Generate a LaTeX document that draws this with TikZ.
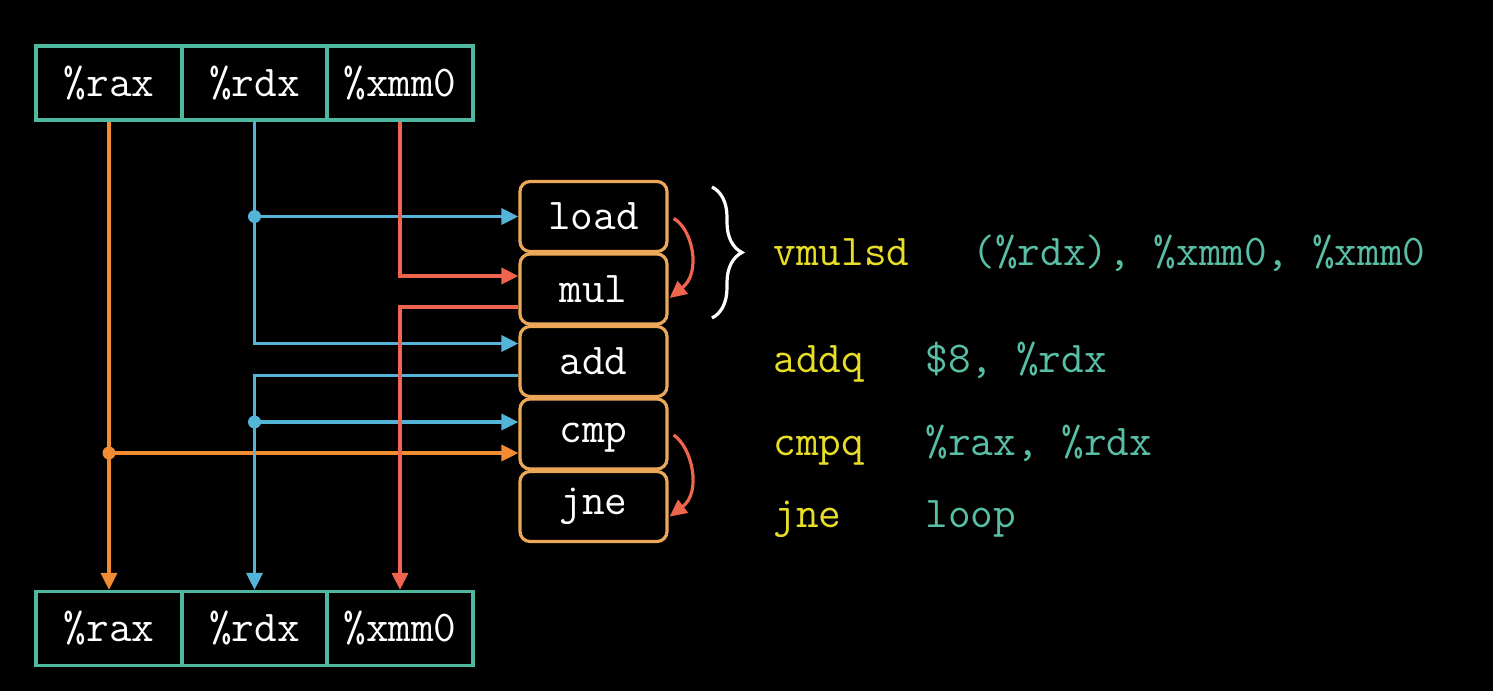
\documentclass[tikz,border=0pt]{standalone}
\usepackage{fontspec}
\usetikzlibrary{arrows.meta,calc,decorations.pathreplacing}

\definecolor{regteal}{RGB}{78,184,160}
\definecolor{codeteal}{RGB}{88,190,165}
\definecolor{codeyellow}{RGB}{232,222,40}
\definecolor{insorange}{RGB}{236,168,88}
\definecolor{wireorange}{RGB}{242,140,50}
\definecolor{wireblue}{RGB}{84,180,215}
\definecolor{wirered}{RGB}{238,100,76}

\newcommand\codefont{\ttfamily\fontsize{22}{26}\selectfont}

\begin{document}
\begin{tikzpicture}[x=0.5pt,y=-0.5pt,
  reg/.style={draw=regteal, line width=1.6pt, minimum width=73pt,
    minimum height=37pt, inner sep=0pt, text=white, font=\codefont},
  ins/.style={draw=insorange, line width=1.6pt, rounded corners=5pt,
    minimum width=73.5pt, minimum height=35pt, inner sep=0pt,
    fill=black, text=white, font=\codefont},
  tip/.style={-{Triangle[length=8.5pt,width=8pt]}},
  wire/.style={line width=1.6pt, tip},
  hop/.style={line width=1.6pt, color=wirered, tip},
  junction/.style={circle, inner sep=0pt, minimum size=6.5pt},
  code/.style={font=\codefont, inner sep=0pt, anchor=base west}]

% canvas
\fill[black] (0,0) rectangle (1493,691);
\useasboundingbox (0,0) rectangle (1493,691);

% register files, before and after the loop body
\node[reg] (raxT) at (109,83)    {\%rax};
\node[reg] (rdxT) at (254.5,83)  {\%rdx};
\node[reg] (xmmT) at (400,83)    {\%xmm0};
\node[reg] (raxB) at (109,628.5)   {\%rax};
\node[reg] (rdxB) at (254.5,628.5) {\%rdx};
\node[reg] (xmmB) at (400,628.5)   {\%xmm0};

% micro-operations
\node[ins] (load) at (593.5,216.5) {load};
\node[ins] (mul)  at (593.5,289)   {mul};
\node[ins] (add)  at (593.5,361.5) {add};
\node[ins, text height=13.5pt] (cmp) at (593.5,434) {cmp};
\node[ins] (jne)  at (593.5,506.5) {jne};

% ports on the operation boxes
\coordinate (mulIn)  at ($(mul.west)+(0,-13)$);
\coordinate (mulOut) at ($(mul.west)+(0,18)$);
\coordinate (addIn)  at ($(add.west)+(0,-18)$);
\coordinate (addOut) at ($(add.west)+(0,14)$);
\coordinate (cmpInB) at ($(cmp.west)+(0,-12)$);
\coordinate (cmpInO) at ($(cmp.west)+(0,19)$);

% junctions
\coordinate (jLoad) at (rdxT.south |- load.west);
\coordinate (jCmp)  at (rdxB.north |- cmpInB);
\coordinate (jRax)  at (raxT.south |- cmpInO);

% %rax
\draw[wire, wireorange] (raxT.south) -- (raxB.north);
\draw[wire, wireorange] (jRax) -- (cmpInO);
\node[junction, fill=wireorange] at (jRax) {};

% %rdx
\draw[wire, wireblue] (rdxT.south) |- (addIn);
\draw[wire, wireblue] (jLoad) -- (load.west);
\node[junction, fill=wireblue] at (jLoad) {};
\draw[wire, wireblue] (addOut) -| (rdxB.north);
\draw[wire, wireblue] (jCmp) -- (cmpInB);
\node[junction, fill=wireblue] at (jCmp) {};

% %xmm0
\draw[wire, wirered] (xmmT.south) |- (mulIn);
\draw[wire, wirered] (mulOut) -| (xmmB.north);

% dependencies between fused operations
\draw[hop] ($(load.east)+(5,2)$) .. controls (692,228) and (702,272) .. ($(mul.east)+(1,9)$);
\draw[hop] ($(cmp.east)+(5,1)$) .. controls (692,447) and (702,492) .. ($(jne.east)+(1,10)$);

% brace grouping load and mul
\draw[white, line width=1.6pt, decorate, decoration={brace, amplitude=15pt}]
  (712,187) -- (712,318);

% assembly listing
\node[code, text=codeyellow] (op1) at (773,265) {vmulsd};
\node[code, text=codeteal]   (ar1) at (972,265) {(\%rdx), \%xmm0, \%xmm0};
\node[code, text=codeyellow] (op2) at (773,372) {addq};
\node[code, text=codeteal]   (ar2) at (925,372) {\$8, \%rdx};
\node[code, text=codeyellow] (op3) at (773,455) {cmpq};
\node[code, text=codeteal]   (ar3) at (925,455) {\%rax, \%rdx};
\node[code, text=codeyellow] (op4) at (773,527) {jne};
\node[code, text=codeteal]   (ar4) at (925,527) {loop};
\end{tikzpicture}
\end{document}
